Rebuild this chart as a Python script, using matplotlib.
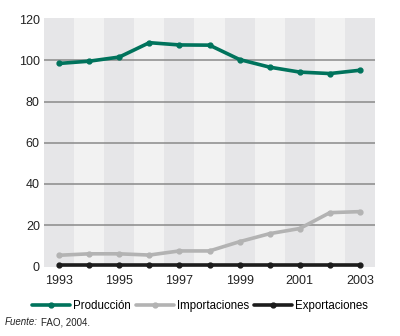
import matplotlib
matplotlib.use("Agg")
import matplotlib.pyplot as plt
from matplotlib.patches import Rectangle

years = [1993, 1994, 1995, 1996, 1997, 1998, 1999, 2000, 2001, 2002, 2003]
produccion = [98.5, 99.6, 101.6, 108.6, 107.5, 107.4, 100.4, 96.7, 94.3, 93.6, 95.2]
importaciones = [5.3, 6.0, 6.0, 5.4, 7.4, 7.4, 11.9, 15.8, 18.3, 26.0, 26.5]
exportaciones = [0.5, 0.5, 0.5, 0.5, 0.5, 0.5, 0.5, 0.5, 0.5, 0.5, 0.5]
series_names = ["Producción", "Importaciones", "Exportaciones"]
yticks = [0, 20, 40, 60, 80, 100, 120]
xticks = [1993, 1995, 1997, 1999, 2001, 2003]

plt.rcParams['font.family'] = ['Liberation Sans', 'DejaVu Sans']

fig = plt.figure(figsize=(4.0, 3.36), dpi=100)
ax = fig.add_axes([0.11, 0.206, 0.8275, 0.7405])

ax.set_xlim(years[0] - 0.5, years[-1] + 0.5)
ax.set_ylim(-0.3, 120.6)

for i, y in enumerate(years):
    c = '#e6e6e8' if i % 2 == 0 else '#f2f2f2'
    ax.add_patch(Rectangle((y - 0.5, -0.3), 1, 120.9, facecolor=c, edgecolor='none', zorder=0))

for t in yticks[1:-1]:
    ax.axhline(t, color='#8a8a8a', lw=1.1, zorder=1)

colors = ['#00735c', '#b3b3b3', '#1c1c1c']
for vals, name, c in zip([produccion, importaciones, exportaciones], series_names, colors):
    ax.plot(years, vals, color=c, lw=2.6, marker='o', markersize=3.5, label=name,
            zorder=3, solid_capstyle='round', clip_on=False)

for s in ax.spines.values():
    s.set_visible(False)
ax.set_yticks(yticks)
ax.set_xticks(xticks)
ax.tick_params(length=0, labelsize=9, colors='#222222', pad=3)
ax.tick_params(axis='x', pad=6)

leg = fig.legend(loc='center', bbox_to_anchor=(0.5, 0.088), ncol=3, frameon=False,
                 fontsize=8.3, handlelength=3.3, handletextpad=0.3, columnspacing=0.4)

t1 = fig.text(0.012, 0.032, "Fuente:", fontsize=7.0, style='italic', color='#222222')
fig.canvas.draw()
ax.annotate("FAO, 2004.", xy=(1, 0), xycoords=t1, xytext=(2, 0), textcoords='offset points',
            fontsize=7.0, color='#222222', ha='left', va='bottom', annotation_clip=False)

fig.savefig("out.png", dpi=100)
